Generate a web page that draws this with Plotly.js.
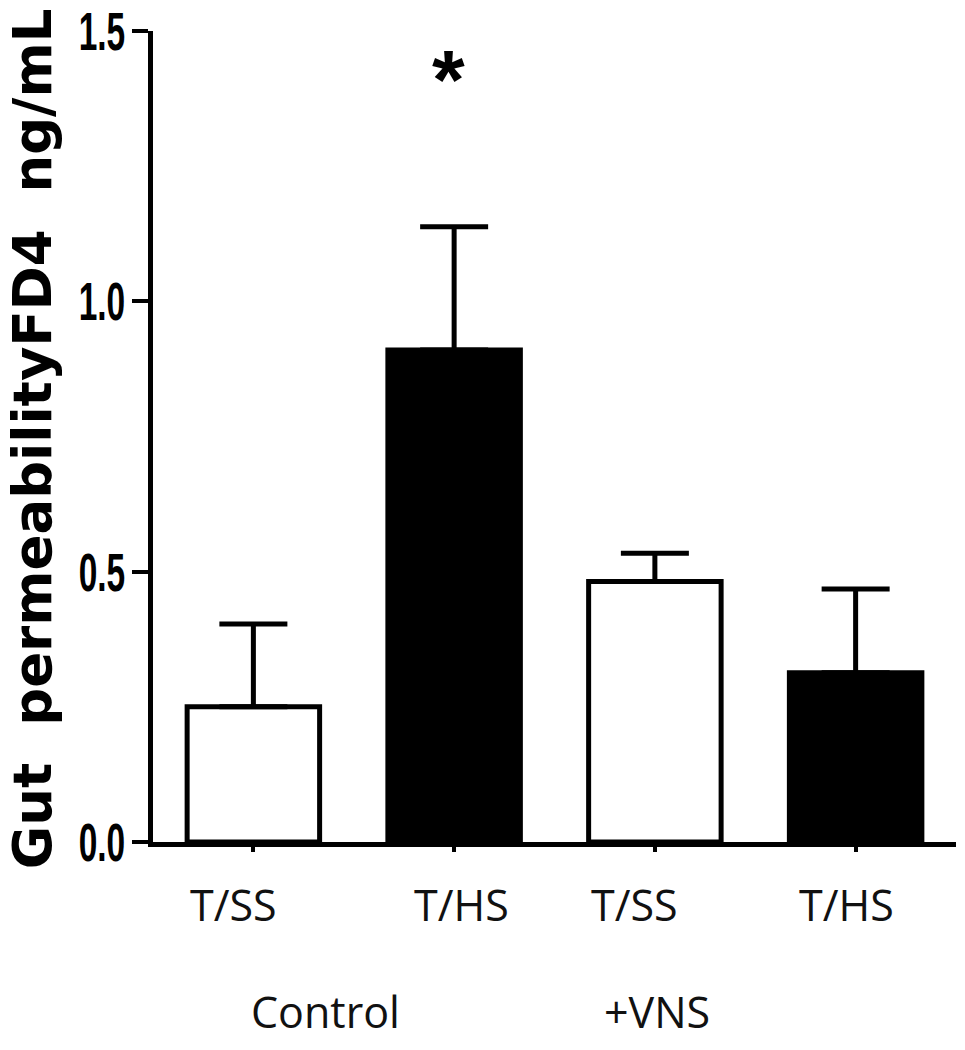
<!DOCTYPE html>
<html>
<head>
<meta charset="utf-8">
<script src="https://cdn.plot.ly/plotly-3.0.1.min.js"></script>
<style>
  html, body { margin: 0; padding: 0; background: #fff; }
  #chart { width: 965px; height: 1050px; }
</style>
</head>
<body>
<div id="chart"></div>
<script>
// bar groups, left to right
const groups = ['T/SS', 'T/HS', 'T/SS', 'T/HS'];
const treatments = ['Control', '+VNS'];
// gut permeability FD4, ng/mL (mean and upper error)
const means = [0.250, 0.910, 0.482, 0.313];
const sems = [0.153, 0.228, 0.052, 0.155];
const marks = ['', '*', '', ''];

const idx = groups.map((g, i) => i);
const fills = ['#ffffff', '#000000', '#ffffff', '#000000'];

// small offsets so the labels sit where the original put them
const labelNudge = [-20, 7, -20, -9];
const treatmentX = [0.36, 2.01];

const bars = {
    type: 'bar',
    x: idx,
    y: means,
    width: 0.66,
    marker: { color: fills, line: { color: '#000', width: 5 } },
    error_y: {
        type: 'data',
        array: sems,
        symmetric: false,
        arrayminus: sems.map(() => 0),
        color: '#000',
        thickness: 5,
        width: 34
    },
    hoverinfo: 'skip',
    showlegend: false
};

const annotations = [];

// group labels under each bar
groups.forEach((g, i) => {
    annotations.push({
        xref: 'x', yref: 'paper', x: i, y: -0.077, xshift: labelNudge[i],
        text: g, showarrow: false, xanchor: 'center', yanchor: 'middle',
        font: { family: 'Open Sans, sans-serif', size: 43, color: '#111' }
    });
});

// treatment labels
treatments.forEach((t, i) => {
    annotations.push({
        xref: 'x', yref: 'paper', x: treatmentX[i], y: -0.209,
        text: t, showarrow: false, xanchor: 'center', yanchor: 'middle',
        font: { family: 'Open Sans, sans-serif', size: 43, color: '#111' }
    });
});

// significance mark
marks.forEach((m, i) => {
    if (!m) return;
    annotations.push({
        xref: 'x', yref: 'y', x: i, y: 1.41, xshift: -6,
        text: m, showarrow: false, xanchor: 'center', yanchor: 'middle',
        font: { family: 'Liberation Sans, Arial, sans-serif', size: 84, weight: 700, color: '#000' }
    });
});

// rotated y title
annotations.push({
    xref: 'paper', yref: 'paper', x: -0.149, y: 0.497,
    text: 'Gut\u00a0 permeabilityFD4\u00a0 ng/mL', textangle: -90,
    showarrow: false, xanchor: 'center', yanchor: 'middle',
    font: { family: 'DejaVu Sans, sans-serif', size: 53, weight: 700, color: '#000' }
});

const layout = {
    width: 965,
    height: 1050,
    margin: { l: 153, r: 9, t: 31, b: 208 },
    paper_bgcolor: '#fff',
    plot_bgcolor: '#fff',
    xaxis: {
        range: [-0.5, 3.5],
        showgrid: false,
        zeroline: false,
        showline: true,
        linecolor: '#000',
        linewidth: 5,
        tickvals: idx,
        ticks: 'outside',
        ticklen: 5,
        tickwidth: 4,
        tickcolor: '#000',
        showticklabels: false,
        fixedrange: true
    },
    yaxis: {
        range: [0, 1.5],
        tickvals: [0, 0.5, 1.0, 1.5],
        ticktext: ['0.0', '0.5', '1.0', '1.5'],
        showgrid: false,
        zeroline: false,
        showline: true,
        linecolor: '#000',
        linewidth: 5,
        ticks: 'outside',
        ticklen: 16,
        tickwidth: 4,
        tickcolor: '#000',
        tickfont: { family: 'Liberation Sans, Arial, sans-serif', size: 54, weight: 700, color: '#000' },
        fixedrange: true
    },
    annotations: annotations
};

Plotly.newPlot('chart', [bars], layout, { displayModeBar: false, staticPlot: true }).then(() => {
    // the original tick numbers are tall and narrow: squeeze them sideways,
    // keeping the right edge close to the tick
    document.querySelectorAll('.ytick text').forEach(t => {
        const bb = t.getBBox();
        const x = bb.x + bb.width;
        const y = bb.y + bb.height / 2;
        const tr = t.getAttribute('transform') || '';
        t.setAttribute('transform', `${tr} translate(${x + 4},${y}) scale(0.62,1) translate(${-x},${-y})`);
    });
});
</script>
</body>
</html>
